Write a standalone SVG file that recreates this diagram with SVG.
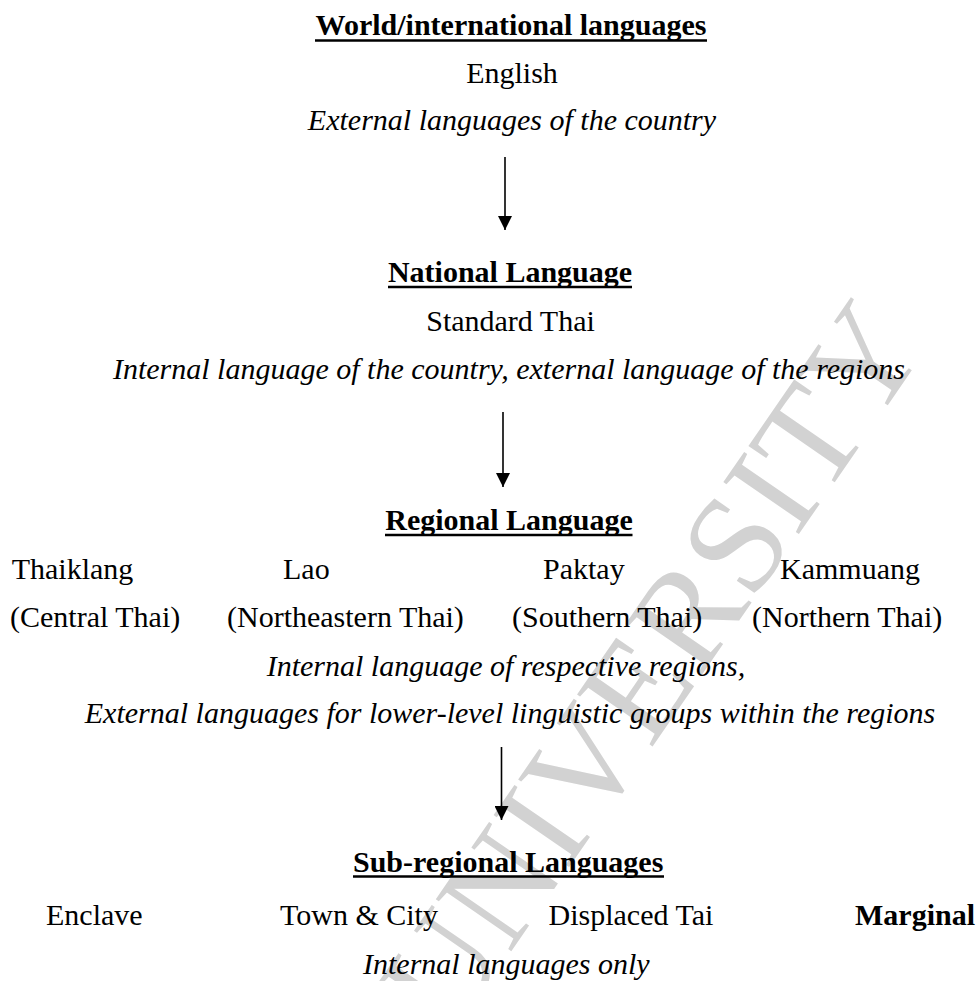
<svg xmlns="http://www.w3.org/2000/svg" width="977" height="981" viewBox="0 0 977 981">
<style>
text{font-family:"Liberation Serif","Times New Roman",serif;font-size:30px;fill:#000}
.b{font-weight:bold}
.i{font-style:italic}
.c{text-anchor:middle}
.ul{stroke:#000;stroke-width:2.5}
.arr{stroke:#000;stroke-width:1.6;fill:none}
.wm{font-size:140px;fill:#d2d2d2;text-anchor:middle}
</style>
<defs>
<marker id="ah" markerUnits="userSpaceOnUse" markerWidth="15" markerHeight="14" refX="14" refY="7" orient="auto">
<path d="M0,0 L14,7 L0,14 z" fill="#000"/>
</marker>
</defs>
<rect width="977" height="981" fill="#fff"/>
<text class="wm" transform="translate(690,692) rotate(-55.4)">UNIVERSITY</text>
<g id="world">
<text class="b c" x="511" y="35">World/international languages</text>
<line class="ul" x1="315" y1="40.5" x2="707" y2="40.5"/>
<text class="c" x="512" y="83">English</text>
<text class="i c" x="512" y="130">External languages of the country</text>
</g>
<g id="national">
<text class="b c" x="510" y="282">National Language</text>
<line class="ul" x1="388" y1="287" x2="632" y2="287"/>
<text class="c" x="510.5" y="331">Standard Thai</text>
<text class="i c" x="509" y="379">Internal language of the country, external language of the regions</text>
</g>
<g id="regional">
<text class="b c" x="509" y="530">Regional Language</text>
<line class="ul" x1="385" y1="535" x2="632.5" y2="535"/>
<text x="11.7" y="579">Thaiklang</text>
<text x="283" y="579">Lao</text>
<text x="543" y="579">Paktay</text>
<text x="780" y="579">Kammuang</text>
<text x="10" y="627">(Central Thai)</text>
<text x="227" y="627">(Northeastern Thai)</text>
<text x="512" y="627">(Southern Thai)</text>
<text x="752" y="627">(Northern Thai)</text>
<text class="i" x="266.7" y="676">Internal language of respective regions,</text>
<text class="i c" x="510" y="723">External languages for lower-level linguistic groups within the regions</text>
</g>
<g id="subregional">
<text class="b" x="353" y="872">Sub-regional Languages</text>
<line class="ul" x1="353" y1="876.5" x2="664" y2="876.5"/>
<text x="46" y="925">Enclave</text>
<text x="280" y="925">Town &amp; City</text>
<text x="548.5" y="925">Displaced Tai</text>
<text class="b" x="855" y="925">Marginal</text>
<text class="i" x="363" y="974">Internal languages only</text>
</g>
<g id="connectors">
<line class="arr" x1="505" y1="157" x2="505" y2="230" marker-end="url(#ah)"/>
<line class="arr" x1="503" y1="412" x2="503" y2="487" marker-end="url(#ah)"/>
<line class="arr" x1="501.5" y1="747" x2="501.5" y2="820" marker-end="url(#ah)"/>
</g>
</svg>
